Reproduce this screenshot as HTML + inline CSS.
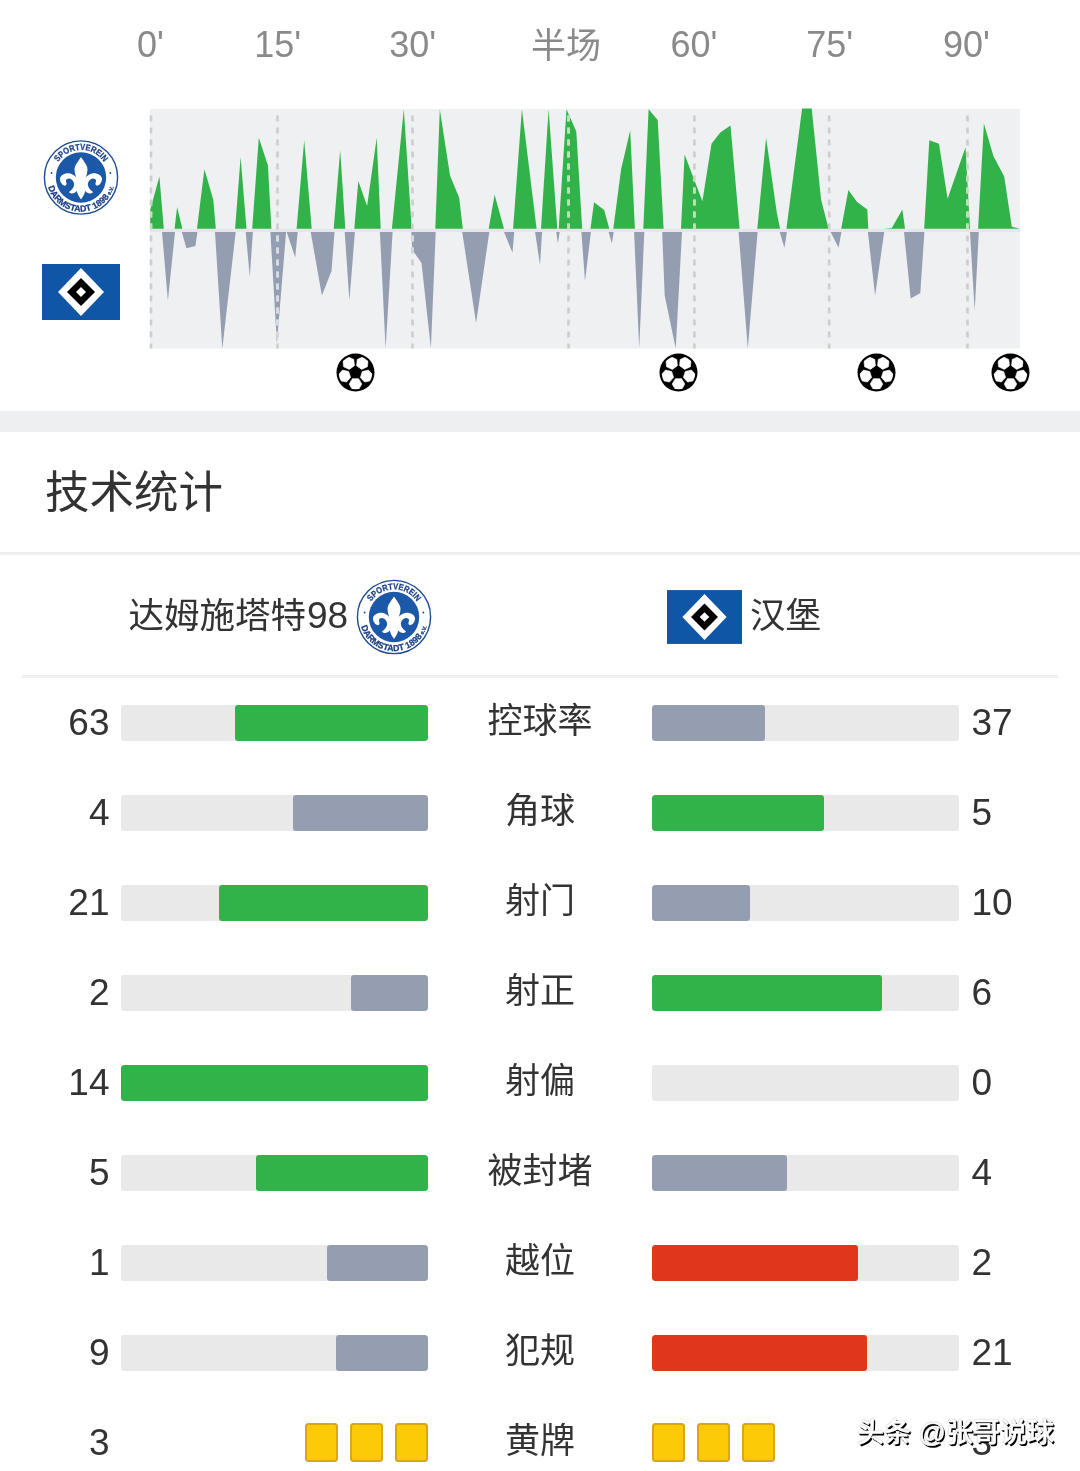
<!DOCTYPE html>
<html lang="zh"><head><meta charset="utf-8"><title>技术统计</title>
<style>
*{margin:0;padding:0;box-sizing:border-box}
html,body{width:1080px;height:1471px;background:#fff;overflow:hidden}
body{position:relative;font-family:"Liberation Sans","Noto Sans CJK SC",sans-serif;color:#333}
.abs{position:absolute}
.tk{position:absolute;top:25px;width:100px;text-align:center;font-size:36px;line-height:40px;color:#8a8a8a;white-space:nowrap}
.tk.c{font-size:35px;top:26.2px;margin-left:-1px}
.ball{position:absolute}
.band{position:absolute;left:0;top:411px;width:1080px;height:21px;background:#eeeff1}
h1{position:absolute;left:45px;top:463.5px;font-size:44.5px;line-height:58px;font-weight:400;color:#333;letter-spacing:0}
.hr1{position:absolute;left:0;top:552px;width:1080px;height:3px;background:#efefef}
.hr2{position:absolute;left:22px;top:674.5px;width:1036px;height:3px;background:#efefef}
.tn{position:absolute;top:591.5px;font-size:35.5px;line-height:48px;color:#333;white-space:nowrap}
.tn b{font-weight:400;font-size:37px;margin-left:1px}
.row{position:absolute;left:0;width:1080px;height:36px}
.tr{position:absolute;top:0;height:36px;width:307px;background:#e9e9e9;border-radius:3px;overflow:hidden}
.tr.l{left:121px}.tr.r{left:652px}
.tr i{position:absolute;top:0;bottom:0;border-radius:3px}
.nl{position:absolute;right:970.5px;top:-4.5px;font-size:37px;line-height:44px;text-align:right}
.nr{position:absolute;left:971.5px;top:-4.5px;font-size:37px;line-height:44px}
.lab{position:absolute;left:440px;width:200px;text-align:center;top:-8px;font-size:35px;line-height:48px}
.card{position:absolute;top:1423px;width:33px;height:38.5px;background:#fdca08;border:2.3px solid #d8a714;border-radius:3.5px}
.wm{position:absolute;left:857px;top:1414px;font-size:27px;line-height:38px;color:#fff;font-weight:500;white-space:nowrap;-webkit-text-stroke:0.5px #fff;text-shadow:1.6px 1.6px 0 #000,0.8px 0.8px 0 #000,0 0 1px #222}
</style></head><body>
<svg width="0" height="0" style="position:absolute"><defs>
<g id="ball"><circle r="19" fill="#000"/><clipPath id="bc"><circle r="16.8"/></clipPath><g fill="#fff" clip-path="url(#bc)" stroke="#fff" stroke-width="0.6" stroke-linejoin="round"><polygon points="-7.48,-15.65 -1.72,-13.09 -1.06,-6.82 -6.16,-3.12 -11.92,-5.68 -12.57,-11.95"/><polygon points="12.57,-11.95 11.92,-5.68 6.16,-3.12 1.06,-6.82 1.72,-13.09 7.48,-15.65"/><polygon points="15.25,8.27 9.09,9.58 4.87,4.89 6.82,-1.10 12.98,-2.41 17.19,2.27"/><polygon points="-3.15,17.06 -6.30,11.60 -3.15,6.14 3.15,6.14 6.30,11.60 3.15,17.06"/><polygon points="-17.19,2.27 -12.98,-2.41 -6.82,-1.10 -4.87,4.89 -9.09,9.58 -15.25,8.27"/></g></g>
<g id="d98"><circle r="36.6" fill="#fff" stroke="#1d4c94" stroke-width="1.4"/><circle r="25.2" fill="#1c58a8"/>
<path id="d98t" d="M-24.37,-12.96 A27.6,27.6 0 0 1 24.37,-12.96" fill="none"/>
<path id="d98b" d="M-33.68,5.94 A34.2,34.2 0 0 0 33.68,5.94" fill="none"/>
<g font-family="Liberation Sans, sans-serif" font-weight="700" fill="#1b3f86" stroke="#1b3f86" stroke-width="0.25" text-anchor="middle">
<text font-size="8.8" textLength="54" lengthAdjust="spacingAndGlyphs"><textPath href="#d98t" startOffset="50%" textLength="54" lengthAdjust="spacingAndGlyphs">SPORTVEREIN</textPath></text>
<text font-size="8.8" textLength="88" lengthAdjust="spacingAndGlyphs"><textPath href="#d98b" startOffset="50%" textLength="88" lengthAdjust="spacingAndGlyphs">DARMSTADT 1898<tspan font-size="5.6"> e.V.</tspan></textPath></text></g>
<circle cx="-29.4" cy="-4.5" r="0.9" fill="#1b3f86"/><circle cx="29.4" cy="-4.5" r="0.9" fill="#1b3f86"/>
<g fill="#fff"><path d="M0,-20.5 C3,-16 6.5,-12 6.5,-8 C6.5,-3 3.6,2 3,7.5 C4,11 4.2,13 3.8,15 C3,18 1,20 0,22 C-1,20 -3,18 -3.8,15 C-4.2,13 -4,11 -3,7.5 C-3.6,2 -6.5,-3 -6.5,-8 C-6.5,-12 -3,-16 0,-20.5Z"/><path d="M-2.5,3 C-5,-1 -8,-4 -12.5,-4.3 C-17,-4.5 -21,-2 -21,1.5 C-21,5 -18.5,8 -15.9,8.2 C-14,7.5 -14.2,6 -15,4 C-15.5,2 -13.5,0.8 -11.8,1 C-9,1.3 -7.2,4 -6.8,7 C-7,10 -9.5,13 -12,14.5 C-10.5,16.8 -6.5,16.5 -3.6,13 L-2,8 Z"/><path d="M-2.5,3 C-5,-1 -8,-4 -12.5,-4.3 C-17,-4.5 -21,-2 -21,1.5 C-21,5 -18.5,8 -15.9,8.2 C-14,7.5 -14.2,6 -15,4 C-15.5,2 -13.5,0.8 -11.8,1 C-9,1.3 -7.2,4 -6.8,7 C-7,10 -9.5,13 -12,14.5 C-10.5,16.8 -6.5,16.5 -3.6,13 L-2,8 Z" transform="scale(-1,1)"/></g></g>
<g id="hsv"><rect x="-39" y="-28" width="78" height="56" fill="#0f57a6"/><polygon points="0,-24 23,0 0,24 -23,0" fill="#fff"/><polygon points="0,-14 14,0 0,14 -14,0" fill="#000"/><polygon points="0,-5 5,0 0,5 -5,0" fill="#fff"/></g>
</defs></svg>
<span class="tk" style="left:100.5px">0'</span><span class="tk" style="left:227.8px">15'</span><span class="tk" style="left:362.8px">30'</span><span class="tk c" style="left:517px">半场</span><span class="tk" style="left:644px">60'</span><span class="tk" style="left:779.8px">75'</span><span class="tk" style="left:916.5px">90'</span>
<svg class="abs" style="left:0;top:0" width="1080" height="410" viewBox="0 0 1080 410">
<rect x="150" y="109" width="870" height="239.5" fill="#eef0f2"/>
<rect x="150" y="229" width="870" height="3" fill="#e4e7ea"/>
<polygon fill="#32b34a" points="150.2,228.7 150.2,210 159.4,176.4 163.8,228.7"/>
<polygon fill="#32b34a" points="174.6,228.7 177.1,206.9 182.4,228.7"/>
<polygon fill="#32b34a" points="197,228.7 204.4,169.3 213.3,199.8 215.8,228.7"/>
<polygon fill="#32b34a" points="235.1,228.7 240.6,157 246.5,228.7"/>
<polygon fill="#32b34a" points="252.2,228.7 258.8,137.7 267.9,165.2 271.4,228.7"/>
<polygon fill="#32b34a" points="296.6,228.7 304.2,140.3 311.7,228.7"/>
<polygon fill="#32b34a" points="333.7,228.7 340.2,149.9 345.3,228.7"/>
<polygon fill="#32b34a" points="354.3,228.7 358.3,181.1 367.1,205.9 376.7,137.7 380.7,228.7"/>
<polygon fill="#32b34a" points="391.9,228.7 403.8,109.2 411.7,228.7"/>
<polygon fill="#32b34a" points="435.3,228.7 439.8,109.2 450,175.4 459.2,197.8 462.8,228.7"/>
<polygon fill="#32b34a" points="488.7,228.7 494.6,194.7 504,228.7"/>
<polygon fill="#32b34a" points="513.1,228.7 521.9,109.2 536.6,228.7"/>
<polygon fill="#32b34a" points="541,228.7 548.6,109.2 557.3,228.7"/>
<polygon fill="#32b34a" points="558.7,228.7 566.5,109.2 576.3,131.6 582.2,228.7"/>
<polygon fill="#32b34a" points="590.5,228.7 594,202.3 604.2,210 609.3,228.7"/>
<polygon fill="#32b34a" points="613.3,228.7 621.1,169.3 630.2,130.6 634.9,228.7"/>
<polygon fill="#32b34a" points="643.3,228.7 648.6,109.2 657.7,120 663.6,228.7"/>
<polygon fill="#32b34a" points="681,228.7 684.6,154.4 702.4,201.2 711.5,143.8 720.3,132.6 730.5,125.5 739.6,228.7"/>
<polygon fill="#32b34a" points="757.3,228.7 766.1,137.7 776.7,212 780.1,228.7"/>
<polygon fill="#32b34a" points="786.4,228.7 802.1,108.6 811.7,108.6 821.1,199.8 828.6,228.7"/>
<polygon fill="#32b34a" points="841.2,228.7 848.4,190 857.1,201.9 867.3,209.6 868.3,228.7"/>
<polygon fill="#32b34a" points="883.6,228.7 891.8,227.9 902.4,209.6 905,228.7"/>
<polygon fill="#32b34a" points="924.2,228.7 929.3,140.3 939,143.8 947.6,198.8 965.5,147.3 970,228.7"/>
<polygon fill="#32b34a" points="978.1,228.7 983.9,123.4 993.4,156 1004.2,176.4 1011.8,226.7 1019.9,228.7"/>
<polygon fill="#949eb0" points="162,232 167.9,300.6 175,232"/>
<polygon fill="#949eb0" points="181.8,232 186.4,248.3 195.4,245.9 197.4,232"/>
<polygon fill="#949eb0" points="215,232 222.3,348.5 235.7,232"/>
<polygon fill="#949eb0" points="245.7,232 249.8,276.8 252.9,232"/>
<polygon fill="#949eb0" points="270.4,232 276.9,343.4 286.1,232"/>
<polygon fill="#949eb0" points="286.7,232 295.2,257.5 297.7,232"/>
<polygon fill="#949eb0" points="310.7,232 321.9,295.6 331.5,271.1 334.5,232"/>
<polygon fill="#949eb0" points="344.7,232 349.4,300.6 354.9,232"/>
<polygon fill="#949eb0" points="379.9,232 385.6,348.5 392.6,232"/>
<polygon fill="#949eb0" points="411.3,232 412.3,249.7 421.5,263 430.9,348.5 435.7,232"/>
<polygon fill="#949eb0" points="462.2,232 476.1,323.1 489.3,232"/>
<polygon fill="#949eb0" points="504,232 512.5,252.8 514.2,232"/>
<polygon fill="#949eb0" points="535.1,232 540,265 542.1,232"/>
<polygon fill="#949eb0" points="556.3,232 557.9,243.6 559.6,232"/>
<polygon fill="#949eb0" points="581.4,232 585,281.3 590.9,232"/>
<polygon fill="#949eb0" points="608.6,232 611.9,243.6 613.7,232"/>
<polygon fill="#949eb0" points="634.1,232 639.2,348.5 644.3,232"/>
<polygon fill="#949eb0" points="662.2,232 664.7,295.6 675.7,348.5 682,232"/>
<polygon fill="#949eb0" points="738.6,232 747.8,348.5 757.6,232"/>
<polygon fill="#949eb0" points="779.7,232 784.4,247.7 786.9,232"/>
<polygon fill="#949eb0" points="830.6,232 838.6,247.7 841.4,232"/>
<polygon fill="#949eb0" points="867.9,232 875.1,295.6 884.2,232"/>
<polygon fill="#949eb0" points="904,232 910.7,298.6 920.3,293.1 924.4,232"/>
<polygon fill="#949eb0" points="970,232 974.7,310.8 978.8,232"/>
<clipPath id="cg"><polygon points="150.2,228.7 150.2,210 159.4,176.4 163.8,228.7"/><polygon points="174.6,228.7 177.1,206.9 182.4,228.7"/><polygon points="197,228.7 204.4,169.3 213.3,199.8 215.8,228.7"/><polygon points="235.1,228.7 240.6,157 246.5,228.7"/><polygon points="252.2,228.7 258.8,137.7 267.9,165.2 271.4,228.7"/><polygon points="296.6,228.7 304.2,140.3 311.7,228.7"/><polygon points="333.7,228.7 340.2,149.9 345.3,228.7"/><polygon points="354.3,228.7 358.3,181.1 367.1,205.9 376.7,137.7 380.7,228.7"/><polygon points="391.9,228.7 403.8,109.2 411.7,228.7"/><polygon points="435.3,228.7 439.8,109.2 450,175.4 459.2,197.8 462.8,228.7"/><polygon points="488.7,228.7 494.6,194.7 504,228.7"/><polygon points="513.1,228.7 521.9,109.2 536.6,228.7"/><polygon points="541,228.7 548.6,109.2 557.3,228.7"/><polygon points="558.7,228.7 566.5,109.2 576.3,131.6 582.2,228.7"/><polygon points="590.5,228.7 594,202.3 604.2,210 609.3,228.7"/><polygon points="613.3,228.7 621.1,169.3 630.2,130.6 634.9,228.7"/><polygon points="643.3,228.7 648.6,109.2 657.7,120 663.6,228.7"/><polygon points="681,228.7 684.6,154.4 702.4,201.2 711.5,143.8 720.3,132.6 730.5,125.5 739.6,228.7"/><polygon points="757.3,228.7 766.1,137.7 776.7,212 780.1,228.7"/><polygon points="786.4,228.7 802.1,108.6 811.7,108.6 821.1,199.8 828.6,228.7"/><polygon points="841.2,228.7 848.4,190 857.1,201.9 867.3,209.6 868.3,228.7"/><polygon points="883.6,228.7 891.8,227.9 902.4,209.6 905,228.7"/><polygon points="924.2,228.7 929.3,140.3 939,143.8 947.6,198.8 965.5,147.3 970,228.7"/><polygon points="978.1,228.7 983.9,123.4 993.4,156 1004.2,176.4 1011.8,226.7 1019.9,228.7"/></clipPath><clipPath id="cs"><polygon points="162,232 167.9,300.6 175,232"/><polygon points="181.8,232 186.4,248.3 195.4,245.9 197.4,232"/><polygon points="215,232 222.3,348.5 235.7,232"/><polygon points="245.7,232 249.8,276.8 252.9,232"/><polygon points="270.4,232 276.9,343.4 286.1,232"/><polygon points="286.7,232 295.2,257.5 297.7,232"/><polygon points="310.7,232 321.9,295.6 331.5,271.1 334.5,232"/><polygon points="344.7,232 349.4,300.6 354.9,232"/><polygon points="379.9,232 385.6,348.5 392.6,232"/><polygon points="411.3,232 412.3,249.7 421.5,263 430.9,348.5 435.7,232"/><polygon points="462.2,232 476.1,323.1 489.3,232"/><polygon points="504,232 512.5,252.8 514.2,232"/><polygon points="535.1,232 540,265 542.1,232"/><polygon points="556.3,232 557.9,243.6 559.6,232"/><polygon points="581.4,232 585,281.3 590.9,232"/><polygon points="608.6,232 611.9,243.6 613.7,232"/><polygon points="634.1,232 639.2,348.5 644.3,232"/><polygon points="662.2,232 664.7,295.6 675.7,348.5 682,232"/><polygon points="738.6,232 747.8,348.5 757.6,232"/><polygon points="779.7,232 784.4,247.7 786.9,232"/><polygon points="830.6,232 838.6,247.7 841.4,232"/><polygon points="867.9,232 875.1,295.6 884.2,232"/><polygon points="904,232 910.7,298.6 920.3,293.1 924.4,232"/><polygon points="970,232 974.7,310.8 978.8,232"/></clipPath>
<g stroke="#cdcdcd" stroke-width="2.6" stroke-dasharray="6 6"><line x1="151" y1="115.5" x2="151" y2="348.5" /><line x1="277.5" y1="115.5" x2="277.5" y2="348.5" /><line x1="412.5" y1="115.5" x2="412.5" y2="348.5" /><line x1="568.5" y1="115.5" x2="568.5" y2="348.5" /><line x1="694.4" y1="115.5" x2="694.4" y2="348.5" /><line x1="829.2" y1="115.5" x2="829.2" y2="348.5" /><line x1="967.5" y1="115.5" x2="967.5" y2="348.5" /></g>
<g stroke="#bfe2b6" stroke-width="2.6" stroke-dasharray="6 6" clip-path="url(#cg)"><line x1="151" y1="115.5" x2="151" y2="348.5" /><line x1="277.5" y1="115.5" x2="277.5" y2="348.5" /><line x1="412.5" y1="115.5" x2="412.5" y2="348.5" /><line x1="568.5" y1="115.5" x2="568.5" y2="348.5" /><line x1="694.4" y1="115.5" x2="694.4" y2="348.5" /><line x1="829.2" y1="115.5" x2="829.2" y2="348.5" /><line x1="967.5" y1="115.5" x2="967.5" y2="348.5" /></g>
<g stroke="#dadde5" stroke-width="2.6" stroke-dasharray="6 6" clip-path="url(#cs)"><line x1="151" y1="115.5" x2="151" y2="348.5" /><line x1="277.5" y1="115.5" x2="277.5" y2="348.5" /><line x1="412.5" y1="115.5" x2="412.5" y2="348.5" /><line x1="568.5" y1="115.5" x2="568.5" y2="348.5" /><line x1="694.4" y1="115.5" x2="694.4" y2="348.5" /><line x1="829.2" y1="115.5" x2="829.2" y2="348.5" /><line x1="967.5" y1="115.5" x2="967.5" y2="348.5" /></g>
<use href="#d98" transform="translate(81,177.5)"/>
<use href="#hsv" transform="translate(81,292)"/>
</svg>
<svg class="ball" style="left:336px;top:352.6px" width="39" height="39" viewBox="-19.5 -19.5 39 39"><use href="#ball"/></svg><svg class="ball" style="left:659px;top:352.6px" width="39" height="39" viewBox="-19.5 -19.5 39 39"><use href="#ball"/></svg><svg class="ball" style="left:857px;top:352.6px" width="39" height="39" viewBox="-19.5 -19.5 39 39"><use href="#ball"/></svg><svg class="ball" style="left:991px;top:352.6px" width="39" height="39" viewBox="-19.5 -19.5 39 39"><use href="#ball"/></svg>
<div class="band"></div>
<h1>技术统计</h1>
<div class="hr1"></div>
<span class="tn" style="left:128.5px">达姆施塔特<b>98</b></span>
<svg class="abs" style="left:356px;top:579px" width="76" height="76" viewBox="-38 -38 76 76"><use href="#d98"/></svg>
<svg class="abs" style="left:667px;top:590px" width="75" height="54" viewBox="-39 -28 78 56"><use href="#hsv"/></svg>
<span class="tn" style="left:750px">汉堡</span>
<div class="hr2"></div>
<div class="row" style="top:705px">
<span class="nl">63</span><div class="tr l"><i style="left:114px;right:0;background:#32b34a"></i></div>
<span class="lab">控球率</span>
<div class="tr r"><i style="left:0;width:112.7px;background:#949eb0"></i></div><span class="nr">37</span></div>
<div class="row" style="top:795px">
<span class="nl">4</span><div class="tr l"><i style="left:172px;right:0;background:#949eb0"></i></div>
<span class="lab">角球</span>
<div class="tr r"><i style="left:0;width:172px;background:#32b34a"></i></div><span class="nr">5</span></div>
<div class="row" style="top:885px">
<span class="nl">21</span><div class="tr l"><i style="left:98px;right:0;background:#32b34a"></i></div>
<span class="lab">射门</span>
<div class="tr r"><i style="left:0;width:98px;background:#949eb0"></i></div><span class="nr">10</span></div>
<div class="row" style="top:975px">
<span class="nl">2</span><div class="tr l"><i style="left:230px;right:0;background:#949eb0"></i></div>
<span class="lab">射正</span>
<div class="tr r"><i style="left:0;width:230px;background:#32b34a"></i></div><span class="nr">6</span></div>
<div class="row" style="top:1065px">
<span class="nl">14</span><div class="tr l"><i style="left:0px;right:0;background:#32b34a"></i></div>
<span class="lab">射偏</span>
<div class="tr r"><i style="left:0;width:0px;background:transparent"></i></div><span class="nr">0</span></div>
<div class="row" style="top:1155px">
<span class="nl">5</span><div class="tr l"><i style="left:135px;right:0;background:#32b34a"></i></div>
<span class="lab">被封堵</span>
<div class="tr r"><i style="left:0;width:134.7px;background:#949eb0"></i></div><span class="nr">4</span></div>
<div class="row" style="top:1245px">
<span class="nl">1</span><div class="tr l"><i style="left:206px;right:0;background:#949eb0"></i></div>
<span class="lab">越位</span>
<div class="tr r"><i style="left:0;width:205.8px;background:#e0371c"></i></div><span class="nr">2</span></div>
<div class="row" style="top:1335px">
<span class="nl">9</span><div class="tr l"><i style="left:215px;right:0;background:#949eb0"></i></div>
<span class="lab">犯规</span>
<div class="tr r"><i style="left:0;width:214.7px;background:#e0371c"></i></div><span class="nr">21</span></div>
<div class="row" style="top:1425px"><span class="nl">3</span><span class="lab">黄牌</span><span class="nr">3</span></div>
<i class="card" style="left:305px"></i><i class="card" style="left:350px"></i><i class="card" style="left:395px"></i>
<i class="card" style="left:652px"></i><i class="card" style="left:697px"></i><i class="card" style="left:742px"></i>
<div class="wm">头条 @张哥说球</div>
</body></html>
